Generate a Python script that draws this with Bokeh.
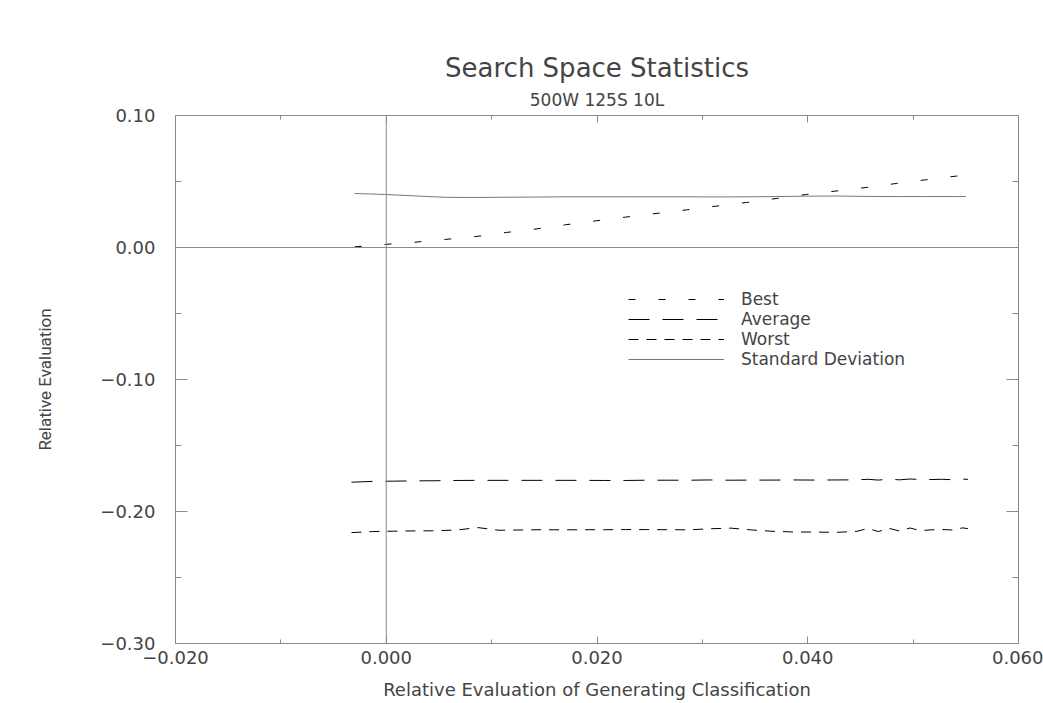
from bokeh.plotting import figure
from bokeh.models import (Range1d, FixedTicker, LinearAxis, Span, Title,
                          Legend, LegendItem, CustomJSTickFormatter)
from bokeh.embed import file_html
from bokeh.resources import INLINE

# --- data -------------------------------------------------------------
x_best = [-0.0030, -0.0002, 0.0027, 0.0056, 0.0085, 0.0114, 0.0143, 0.0170,
          0.0199, 0.0227, 0.0256, 0.0285, 0.0313, 0.0342, 0.0370, 0.0399,
          0.0428, 0.0456, 0.0484, 0.0512, 0.0540, 0.0550]
best = [0.0005, 0.0023, 0.0040, 0.0061, 0.0083, 0.0114, 0.0141, 0.0172,
        0.0202, 0.0230, 0.0258, 0.0285, 0.0313, 0.0341, 0.0371, 0.0402,
        0.0429, 0.0455, 0.0485, 0.0513, 0.0540, 0.0548]
std_dev = [0.0409, 0.0402, 0.0391, 0.0380, 0.0379, 0.0381, 0.0382, 0.0384,
           0.0384, 0.0384, 0.0384, 0.0384, 0.0383, 0.0384, 0.0386, 0.0389,
           0.0390, 0.0387, 0.0386, 0.0386, 0.0386, 0.0386]

x_low = [-0.0033, -0.0013, 0.0007, 0.0027, 0.0047, 0.0067, 0.0087, 0.0107,
         0.0127, 0.0147, 0.0167, 0.0187, 0.0207, 0.0227, 0.0247, 0.0267,
         0.0287, 0.0307, 0.0327, 0.0347, 0.0367, 0.0387, 0.0407, 0.0427,
         0.0447, 0.0457, 0.0467, 0.0477, 0.0487, 0.0497, 0.0507, 0.0517,
         0.0527, 0.0537, 0.0547, 0.0552]
average = [-0.1778, -0.1772, -0.1770, -0.1768, -0.1767, -0.1765, -0.1764, -0.1764,
           -0.1764, -0.1764, -0.1764, -0.1764, -0.1765, -0.1765, -0.1763, -0.1763,
           -0.1763, -0.1761, -0.1763, -0.1762, -0.1762, -0.1761, -0.1762, -0.1761,
           -0.1760, -0.1756, -0.1762, -0.1755, -0.1760, -0.1754, -0.1757, -0.1758,
           -0.1756, -0.1759, -0.1754, -0.1757]
worst = [-0.2160, -0.2152, -0.2149, -0.2147, -0.2146, -0.2140, -0.2122, -0.2142,
         -0.2140, -0.2138, -0.2139, -0.2138, -0.2138, -0.2137, -0.2137, -0.2138,
         -0.2139, -0.2131, -0.2126, -0.2140, -0.2150, -0.2155, -0.2156, -0.2158,
         -0.2150, -0.2128, -0.2152, -0.2127, -0.2148, -0.2125, -0.2145, -0.2139,
         -0.2136, -0.2140, -0.2124, -0.2130]

x_major = [-0.02, 0.0, 0.02, 0.04, 0.06]
x_minor = [-0.01, 0.01, 0.03, 0.05]
y_major = [-0.30, -0.20, -0.10, 0.0, 0.10]
y_minor = [-0.25, -0.15, -0.05, 0.05]

FONT = "DejaVu Sans"
TXT = "#444444"
FRAME = "#8a8a8a"

p = figure(width=1043, height=703, title=None,
           x_range=Range1d(-0.02, 0.06), y_range=Range1d(-0.30, 0.10),
           output_backend="svg", toolbar_location=None,
           min_border_left=175, min_border_right=25,
           min_border_top=115, min_border_bottom=60)
p.xgrid.visible = False
p.ygrid.visible = False
p.outline_line_color = FRAME
p.outline_line_width = 1
p.background_fill_color = "white"
p.border_fill_color = "white"

xfmt = CustomJSTickFormatter(code="""
const t = Math.abs(tick) < 1e-9 ? 0 : tick;
return (t < 0 ? '\\u2212' : '') + Math.abs(t).toFixed(3);""")
yfmt = CustomJSTickFormatter(code="""
const t = Math.abs(tick) < 1e-9 ? 0 : tick;
return (t < 0 ? '\\u2212' : '') + Math.abs(t).toFixed(2);""")
blank = CustomJSTickFormatter(code="return '';")


def style_axis(ax, ticks, minor, major_len, minor_len):
    ax.ticker = FixedTicker(ticks=ticks, minor_ticks=minor)
    ax.axis_line_color = FRAME
    ax.major_tick_line_color = FRAME
    ax.minor_tick_line_color = FRAME
    ax.major_tick_out = 0
    ax.minor_tick_out = 0
    ax.major_tick_in = major_len
    ax.minor_tick_in = minor_len
    ax.major_label_text_font = FONT
    ax.major_label_text_color = TXT
    ax.axis_label_text_font = FONT
    ax.axis_label_text_color = TXT
    ax.axis_label_text_font_style = "normal"


xa = p.xaxis[0]
style_axis(xa, x_major, x_minor, 7, 4)
xa.formatter = xfmt
xa.major_label_text_font_size = "18px"
xa.major_label_standoff = 7
xa.axis_label = "Relative Evaluation of Generating Classification"
xa.axis_label_text_font_size = "18px"
xa.axis_label_standoff = 12

ya = p.yaxis[0]
style_axis(ya, y_major, y_minor, 12, 6)
ya.formatter = yfmt
ya.major_label_text_font_size = "18px"
ya.major_label_standoff = 20
ya.axis_label = "Relative Evaluation"
ya.axis_label_text_font = "Roboto"
ya.axis_label_text_font_size = "17px"
ya.axis_label_standoff = 42

# tick marks on the right and top edges, without labels
for loc, ticks, minor, ml, mn in (("right", y_major, y_minor, 12, 6),
                                  ("above", x_major, x_minor, 7, 4)):
    ax = LinearAxis(formatter=blank)
    style_axis(ax, ticks, minor, ml, mn)
    ax.major_label_standoff = 0
    ax.axis_line_color = None
    p.add_layout(ax, loc)

p.add_layout(Title(text="500W 125S 10L", align="center", text_font=FONT,
                   text_font_size="17px", text_color=TXT,
                   text_font_style="normal", standoff=11), "above")
p.add_layout(Title(text="Search Space Statistics", align="center", text_font=FONT,
                   text_font_size="26px", text_color=TXT,
                   text_font_style="normal", standoff=0), "above")

# zero reference lines
p.add_layout(Span(location=0, dimension="width", line_color=FRAME, line_width=1))
p.add_layout(Span(location=0, dimension="height", line_color=FRAME, line_width=1))

r_best = p.line(x_best, best, line_color="black", line_width=1, line_dash="7 23")
r_avg = p.line(x_low, average, line_color="black", line_width=1, line_dash="21 13")
r_worst = p.line(x_low, worst, line_color="black", line_width=1, line_dash="10 8")
r_std = p.line(x_best, std_dev, line_color="#777777", line_width=1)

legend = Legend(items=[LegendItem(label="Best", renderers=[r_best]),
                       LegendItem(label="Average", renderers=[r_avg]),
                       LegendItem(label="Worst", renderers=[r_worst]),
                       LegendItem(label="Standard Deviation", renderers=[r_std])],
                location=(453, 274), border_line_color=None,
                background_fill_alpha=0, glyph_width=96, glyph_height=14,
                label_height=14, label_standoff=17, spacing=0, padding=0,
                margin=0, label_text_font=FONT, label_text_font_size="17px",
                label_text_color=TXT)
p.add_layout(legend)

open("out.html", "w").write(file_html(p, INLINE))
